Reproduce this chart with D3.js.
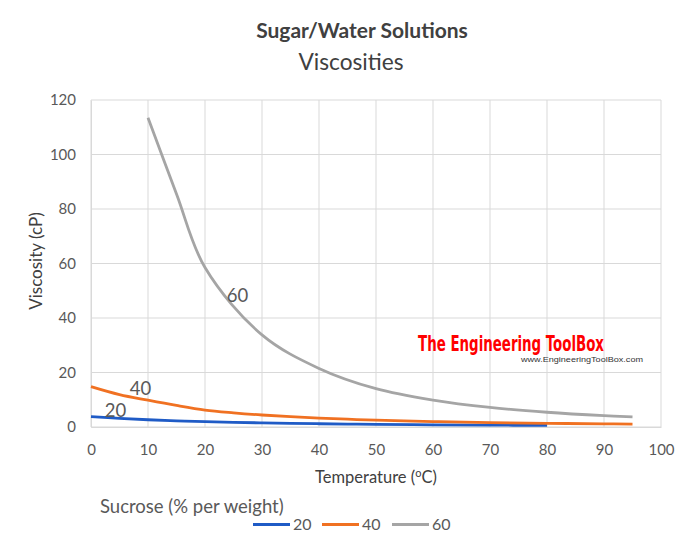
<!DOCTYPE html>
<html><head><meta charset="utf-8">
<script src="https://cdnjs.cloudflare.com/ajax/libs/d3/7.8.5/d3.min.js"></script>
<style>body{margin:0;background:#fff}svg{display:block}</style>
</head><body>
<script>
const xTicks = [0,10,20,30,40,50,60,70,80,90,100];
const yTicks = [0,20,40,60,80,100,120];
const seriesNames = ["20","40","60"];
const colors = ["#1f5bc6","#f07122","#a5a5a5"];
const temp20 = [0,5,10,15,20,25,30,35,40,45,50,60,70,80];
const visc20 = [3.818,3.166,2.662,2.275,1.967,1.710,1.510,1.336,1.197,1.074,0.974,0.812,0.691,0.596];
const temp40 = [0,5,10,15,20,25,30,35,40,45,50,60,70,80,90,95];
const visc40 = [14.83,11.9,9.83,7.9,6.223,5.206,4.398,3.776,3.261,2.858,2.506,1.98,1.61,1.35,1.15,1.06];
const temp60 = [10,15,20,30,40,50,60,70,80,90,95];
const visc60 = [113.5,85.5,58.5,33.8,21.5,14.06,9.87,7.18,5.42,4.17,3.70];
const labelPos = [[2.4,3.7],[6.8,11.7],[23.8,46]];

const W=700,H=555;
const svg=d3.select("body").append("svg").attr("width",W).attr("height",H);
const font="Lato, 'Open Sans', sans-serif";
const x=d3.scaleLinear().domain([0,100]).range([91,661]);
const y=d3.scaleLinear().domain([0,120]).range([427,100]);

svg.append("text").attr("x",362).attr("y",38).attr("text-anchor","middle")
  .attr("font-family",font).attr("font-weight","bold").attr("font-size",21).attr("fill","#404040").text("Sugar/Water Solutions");
svg.append("text").attr("x",351).attr("y",70).attr("text-anchor","middle")
  .attr("font-family",font).attr("font-size",22.7).attr("fill","#404040").text("Viscosities");

// grid
svg.append("g").selectAll("line").data(yTicks).join("line")
  .attr("x1",91).attr("x2",661).attr("y1",d=>y(d)).attr("y2",d=>y(d))
  .attr("stroke","#d9d9d9").attr("stroke-width",1);
svg.append("g").selectAll("line").data(xTicks).join("line")
  .attr("x1",d=>x(d)).attr("x2",d=>x(d)).attr("y1",100).attr("y2",427)
  .attr("stroke","#d9d9d9").attr("stroke-width",1);

// axes
const xa=svg.append("g").attr("transform","translate(0,427)")
  .call(d3.axisBottom(x).tickValues(xTicks).tickSize(0).tickPadding(17));
const ya=svg.append("g").attr("transform","translate(91,0)")
  .call(d3.axisLeft(y).tickValues(yTicks).tickSize(0).tickPadding(15));
[xa,ya].forEach(a=>{a.select(".domain").attr("stroke","#d9d9d9");
  a.selectAll("text").attr("font-family",font).attr("font-size",15).attr("fill","#595959");});

svg.append("text").attr("x",376).attr("y",483).attr("text-anchor","middle")
  .attr("font-family",font).attr("font-size",16.5).attr("fill","#404040")
  .html('Temperature (<tspan dy="-6" font-size="11">o</tspan><tspan dy="6">C)</tspan>');
svg.append("text").attr("transform","translate(42,261) rotate(-90)").attr("text-anchor","middle")
  .attr("font-family",font).attr("font-size",17).attr("fill","#404040").text("Viscosity (cP)");

// lines
const series=[[temp20,visc20],[temp40,visc40],[temp60,visc60]];
const line=d3.line().x(d=>x(d[0])).y(d=>y(d[1])).curve(d3.curveCatmullRom.alpha(0.5));
series.forEach((s,i)=>{
  const pts=s[0].map((t,j)=>[t,s[1][j]]);
  svg.append("path").attr("d",line(pts)).attr("fill","none").attr("stroke",colors[i]).attr("stroke-width",2.8);
});
labelPos.forEach((p,i)=>{
  svg.append("text").attr("x",x(p[0])).attr("y",y(p[1])).attr("font-family",font).attr("font-size",18.5)
    .attr("fill","#595959").text(seriesNames[i]);
});

// watermark
svg.append("text").attr("x",418).attr("y",351).attr("textLength",186).attr("lengthAdjust","spacingAndGlyphs")
  .attr("font-family","'DejaVu Sans Condensed', 'DejaVu Sans', sans-serif").attr("font-weight","bold").attr("font-size",21)
  .attr("fill","#ff0000").text("The Engineering ToolBox");
svg.append("text").attr("x",521).attr("y",362).attr("textLength",122).attr("lengthAdjust","spacingAndGlyphs")
  .attr("font-family","'Liberation Sans', Arial, sans-serif").attr("font-size",8)
  .attr("fill","#333").text("www.EngineeringToolBox.com");

// legend
svg.append("text").attr("x",100).attr("y",513).attr("font-family",font).attr("font-size",18.5)
  .attr("fill","#595959").text("Sucrose (% per weight)");
const lx=[253,322,392];
seriesNames.forEach((n,i)=>{
  svg.append("line").attr("x1",lx[i]).attr("x2",lx[i]+37).attr("y1",524.5).attr("y2",524.5)
    .attr("stroke",colors[i]).attr("stroke-width",2.8);
  svg.append("text").attr("x",lx[i]+40).attr("y",530).attr("font-family",font).attr("font-size",16)
    .attr("fill","#595959").text(n);
});
</script>
</body></html>
